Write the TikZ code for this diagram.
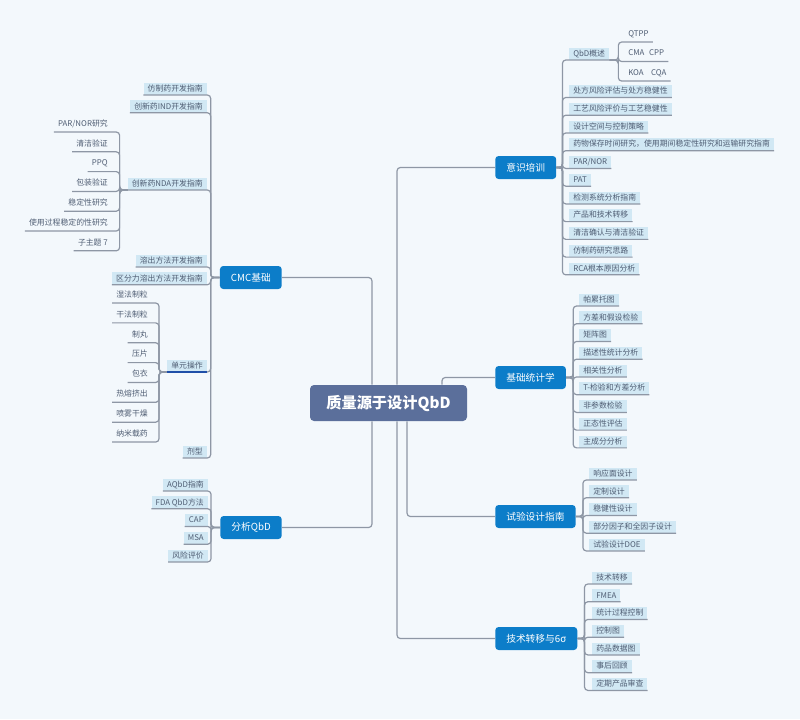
\documentclass[tikz,border=0pt]{standalone}
\usepackage{fontspec}
\setmainfont{Noto Sans CJK SC}
\usetikzlibrary{positioning}
\definecolor{mmbg}{HTML}{F3F8FC}
\definecolor{mmroot}{HTML}{5B6F9B}
\definecolor{mmtopic}{HTML}{0C7DC9}
\definecolor{mmfill}{HTML}{D1E8F4}
\definecolor{mmtext}{HTML}{4F5D73}
\definecolor{mmline}{HTML}{8E97A5}
\definecolor{mmsel}{HTML}{1F4FA8}

\begin{document}
\begin{tikzpicture}[x=0.75pt, y=-0.75pt,
    root/.style={fill=mmroot, text=white, rounded corners=3pt, font=\fontsize{11.4pt}{13pt}\selectfont\bfseries, minimum width=117.75pt, minimum height=27pt},
    topic/.style={fill=mmtopic, text=white, rounded corners=2.5pt, font=\fontsize{7.3pt}{9pt}\selectfont, minimum height=17.25pt, inner xsep=8.25pt},
    sub/.style={fill=mmfill, text=mmtext, font=\fontsize{5.9pt}{7pt}\selectfont, text height=5pt, text depth=1.2pt, inner xsep=3pt, inner ysep=1.4pt},
    leaf/.style={text=mmtext, font=\fontsize{5.9pt}{7pt}\selectfont, text height=5pt, text depth=1.2pt, inner xsep=3pt, inner ysep=2.9pt},
    link/.style={draw=mmline, line width=0.9pt, rounded corners=2.5pt}]
  \useasboundingbox (0,0) rectangle (800,719);
  \fill[mmbg] (0,0) rectangle (800,719);

  % centre and main topics
  \node[root] (root) at (388.5,403) {质量源于设计QbD};
  \node[topic, anchor=west] (yishi) at (495,167.5) {意识培训};
  \node[topic, anchor=west] (tongji) at (495,377.5) {基础统计学};
  \node[topic, anchor=west] (shiyan) at (495,516.5) {试验设计指南};
  \node[topic, anchor=west] (jishu) at (495,638.5) {技术转移与6σ};
  \node[topic, anchor=east] (cmc) at (282,277.5) {CMC基础};
  \node[topic, anchor=east] (fenxi) at (282,527.5) {分析QbD};

  % 意识培训
  \node[sub, anchor=south west] (qbd) at (569,60) {QbD概述};
  \node[leaf, anchor=south west] (qtpp) at (624,42) {QTPP};
  \node[leaf, below=2.25pt of qtpp.south west, anchor=north west] (cma) {CMA\hspace{3.5pt}CPP};
  \node[leaf, below=2.25pt of cma.south west, anchor=north west] (koa) {KOA\hspace{5.5pt}CQA};
  \node[sub, anchor=south west] (y1) at (569,97.5) {处方风险评估与处方稳健性};
  \node[sub, below=3.9pt of y1.south west, anchor=north west] (y2) {工艺风险评价与工艺稳健性};
  \node[sub, below=3.9pt of y2.south west, anchor=north west] (y3) {设计空间与控制策略};
  \node[sub, below=3.9pt of y3.south west, anchor=north west] (y4) {药物保存时间研究，使用期间稳定性研究和运输研究指南};
  \node[sub, below=3.9pt of y4.south west, anchor=north west] (y5) {PAR/NOR};
  \node[sub, below=3.9pt of y5.south west, anchor=north west] (y6) {PAT};
  \node[sub, below=3.9pt of y6.south west, anchor=north west] (y7) {检测系统分析指南};
  \node[sub, below=3.9pt of y7.south west, anchor=north west] (y8) {产品和技术转移};
  \node[sub, below=3.9pt of y8.south west, anchor=north west] (y9) {清洁确认与清洁验证};
  \node[sub, below=3.9pt of y9.south west, anchor=north west] (y10) {仿制药研究思路};
  \node[sub, below=3.9pt of y10.south west, anchor=north west] (y11) {RCA根本原因分析};

  % 基础统计学
  \node[sub, anchor=south west] (t1) at (579,306) {帕累托图};
  \node[sub, below=3.9pt of t1.south west, anchor=north west] (t2) {方差和假设检验};
  \node[sub, below=3.9pt of t2.south west, anchor=north west] (t3) {矩阵图};
  \node[sub, below=3.9pt of t3.south west, anchor=north west] (t4) {描述性统计分析};
  \node[sub, below=3.9pt of t4.south west, anchor=north west] (t5) {相关性分析};
  \node[sub, below=3.9pt of t5.south west, anchor=north west] (t6) {T-检验和方差分析};
  \node[sub, below=3.9pt of t6.south west, anchor=north west] (t7) {非参数检验};
  \node[sub, below=3.9pt of t7.south west, anchor=north west] (t8) {正态性评估};
  \node[sub, below=3.9pt of t8.south west, anchor=north west] (t9) {主成分分析};

  % 试验设计指南
  \node[sub, anchor=south west] (s1) at (589,480) {响应面设计};
  \node[sub, below=3.9pt of s1.south west, anchor=north west] (s2) {定制设计};
  \node[sub, below=3.9pt of s2.south west, anchor=north west] (s3) {稳健性设计};
  \node[sub, below=3.9pt of s3.south west, anchor=north west] (s4) {部分因子和全因子设计};
  \node[sub, below=3.9pt of s4.south west, anchor=north west] (s5) {试验设计DOE};

  % 技术转移与6σ
  \node[sub, anchor=south west] (j1) at (592,584) {技术转移};
  \node[sub, below=3.9pt of j1.south west, anchor=north west] (j2) {FMEA};
  \node[sub, below=3.9pt of j2.south west, anchor=north west] (j3) {统计过程控制};
  \node[sub, below=3.9pt of j3.south west, anchor=north west] (j4) {控制图};
  \node[sub, below=3.9pt of j4.south west, anchor=north west] (j5) {药品数据图};
  \node[sub, below=3.9pt of j5.south west, anchor=north west] (j6) {事后回顾};
  \node[sub, below=3.9pt of j6.south west, anchor=north west] (j7) {定期产品审查};

  % CMC基础
  \node[sub, anchor=south east] (c1) at (207,95) {仿制药开发指南};
  \node[sub, below=3.9pt of c1.south east, anchor=north east] (c2) {创新药IND开发指南};
  \node[sub, anchor=south east] (nda) at (207,190) {创新药NDA开发指南};
  \node[sub, anchor=south east] (c4) at (207,267) {溶出方法开发指南};
  \node[sub, below=3.9pt of c4.south east, anchor=north east] (c5) {区分力溶出方法开发指南};
  \node[sub, anchor=south east] (unit) at (207,372) {单元操作};
  \node[sub, anchor=south east] (c7) at (207,458) {剂型};
  \node[leaf, anchor=south east] (n1) at (112,132) {PAR/NOR研究};
  \node[leaf, below=2.45pt of n1.south east, anchor=north east] (n2) {清洁验证};
  \node[leaf, below=2.45pt of n2.south east, anchor=north east] (n3) {PPQ};
  \node[leaf, below=2.45pt of n3.south east, anchor=north east] (n4) {包装验证};
  \node[leaf, below=2.45pt of n4.south east, anchor=north east] (n5) {稳定性研究};
  \node[leaf, below=2.45pt of n5.south east, anchor=north east] (n6) {使用过程稳定的性研究};
  \node[leaf, below=2.45pt of n6.south east, anchor=north east] (n7) {子主题 7};
  \node[leaf, anchor=south east] (u1) at (152,303) {湿法制粒};
  \node[leaf, below=2.5pt of u1.south east, anchor=north east] (u2) {干法制粒};
  \node[leaf, below=2.5pt of u2.south east, anchor=north east] (u3) {制丸};
  \node[leaf, below=2.5pt of u3.south east, anchor=north east] (u4) {压片};
  \node[leaf, below=2.5pt of u4.south east, anchor=north east] (u5) {包衣};
  \node[leaf, below=2.5pt of u5.south east, anchor=north east] (u6) {热熔挤出};
  \node[leaf, below=2.5pt of u6.south east, anchor=north east] (u7) {喷雾干燥};
  \node[leaf, below=2.5pt of u7.south east, anchor=north east] (u8) {纳米载药};

  % 分析QbD
  \node[sub, anchor=south east] (f1) at (208,491) {AQbD指南};
  \node[sub, below=3.9pt of f1.south east, anchor=north east] (f2) {FDA QbD方法};
  \node[sub, below=3.9pt of f2.south east, anchor=north east] (f3) {CAP};
  \node[sub, below=3.9pt of f3.south east, anchor=north east] (f4) {MSA};
  \node[sub, below=3.9pt of f4.south east, anchor=north east] (f5) {风险评价};

  % connectors from the centre
  \draw[link] ([xshift=6.4pt]root.north) |- (yishi.west);
  \draw[link] ([xshift=40.1pt]root.north) |- (tongji.west);
  \draw[link] ([xshift=-12.4pt]root.north) |- (cmc.east);
  \draw[link] ([xshift=-12.4pt]root.south) |- (fenxi.east);
  \draw[link] ([xshift=13.9pt]root.south) |- (shiyan.west);
  \draw[link] ([xshift=6.4pt]root.south) |- (jishu.west);

  % 意识培训 branches
  \draw[link] (yishi.east) -- ++(6,0) |- (qbd.south east);
  \draw[link] (yishi.east) -- ++(6,0) |- (y1.south east);
  \draw[link] (yishi.east) -- ++(6,0) |- (y2.south east);
  \draw[link] (yishi.east) -- ++(6,0) |- (y3.south east);
  \draw[link] (yishi.east) -- ++(6,0) |- (y4.south east);
  \draw[link] (yishi.east) -- ++(6,0) |- (y5.south east);
  \draw[link] (yishi.east) -- ++(6,0) |- (y6.south east);
  \draw[link] (yishi.east) -- ++(6,0) |- (y7.south east);
  \draw[link] (yishi.east) -- ++(6,0) |- (y8.south east);
  \draw[link] (yishi.east) -- ++(6,0) |- (y9.south east);
  \draw[link] (yishi.east) -- ++(6,0) |- (y10.south east);
  \draw[link] (yishi.east) -- ++(6,0) |- (y11.south east);
  \draw[link] (qbd.south east) -- ++(9,0) |- (qtpp.south east);
  \draw[link] (qbd.south east) -- ++(9,0) |- (cma.south east);
  \draw[link] (qbd.south east) -- ++(9,0) |- (koa.south east);

  % 基础统计学 branches
  \draw[link] (tongji.east) -- ++(7,0) |- (t1.south east);
  \draw[link] (tongji.east) -- ++(7,0) |- (t2.south east);
  \draw[link] (tongji.east) -- ++(7,0) |- (t3.south east);
  \draw[link] (tongji.east) -- ++(7,0) |- (t4.south east);
  \draw[link] (tongji.east) -- ++(7,0) |- (t5.south east);
  \draw[link] (tongji.east) -- ++(7,0) |- (t6.south east);
  \draw[link] (tongji.east) -- ++(7,0) |- (t7.south east);
  \draw[link] (tongji.east) -- ++(7,0) |- (t8.south east);
  \draw[link] (tongji.east) -- ++(7,0) |- (t9.south east);

  % 试验设计指南 branches
  \draw[link] (shiyan.east) -- ++(7,0) |- (s1.south east);
  \draw[link] (shiyan.east) -- ++(7,0) |- (s2.south east);
  \draw[link] (shiyan.east) -- ++(7,0) |- (s3.south east);
  \draw[link] (shiyan.east) -- ++(7,0) |- (s4.south east);
  \draw[link] (shiyan.east) -- ++(7,0) |- (s5.south east);

  % 技术转移与6σ branches
  \draw[link] (jishu.east) -- ++(7,0) |- (j1.south east);
  \draw[link] (jishu.east) -- ++(7,0) |- (j2.south east);
  \draw[link] (jishu.east) -- ++(7,0) |- (j3.south east);
  \draw[link] (jishu.east) -- ++(7,0) |- (j4.south east);
  \draw[link] (jishu.east) -- ++(7,0) |- (j5.south east);
  \draw[link] (jishu.east) -- ++(7,0) |- (j6.south east);
  \draw[link] (jishu.east) -- ++(7,0) |- (j7.south east);

  % CMC基础 branches
  \draw[link] (cmc.west) -- ++(-9,0) |- (c1.south west);
  \draw[link] (cmc.west) -- ++(-9,0) |- (c2.south west);
  \draw[link] (cmc.west) -- ++(-9,0) |- (nda.south west);
  \draw[link] (cmc.west) -- ++(-9,0) |- (c4.south west);
  \draw[link] (cmc.west) -- ++(-9,0) |- (c5.south west);
  \draw[link] (cmc.west) -- ++(-9,0) |- (unit.south west);
  \draw[link] (cmc.west) -- ++(-9,0) |- (c7.south west);
  \draw[link] (nda.south west) -- ++(-8,0) |- (n1.south west);
  \draw[link] (nda.south west) -- ++(-8,0) |- (n2.south west);
  \draw[link] (nda.south west) -- ++(-8,0) |- (n3.south west);
  \draw[link] (nda.south west) -- ++(-8,0) |- (n4.south west);
  \draw[link] (nda.south west) -- ++(-8,0) |- (n5.south west);
  \draw[link] (nda.south west) -- ++(-8,0) |- (n6.south west);
  \draw[link] (nda.south west) -- ++(-8,0) |- (n7.south west);
  \draw[link] (unit.south west) -- ++(-8,0) |- (u1.south west);
  \draw[link] (unit.south west) -- ++(-8,0) |- (u2.south west);
  \draw[link] (unit.south west) -- ++(-8,0) |- (u3.south west);
  \draw[link] (unit.south west) -- ++(-8,0) |- (u4.south west);
  \draw[link] (unit.south west) -- ++(-8,0) |- (u5.south west);
  \draw[link] (unit.south west) -- ++(-8,0) |- (u6.south west);
  \draw[link] (unit.south west) -- ++(-8,0) |- (u7.south west);
  \draw[link] (unit.south west) -- ++(-8,0) |- (u8.south west);
  \draw[mmsel, line width=0.9pt] (unit.south west) -- (unit.south east);

  % 分析QbD branches
  \draw[link] (fenxi.west) -- ++(-9,0) |- (f1.south west);
  \draw[link] (fenxi.west) -- ++(-9,0) |- (f2.south west);
  \draw[link] (fenxi.west) -- ++(-9,0) |- (f3.south west);
  \draw[link] (fenxi.west) -- ++(-9,0) |- (f4.south west);
  \draw[link] (fenxi.west) -- ++(-9,0) |- (f5.south west);
\end{tikzpicture}
\end{document}
